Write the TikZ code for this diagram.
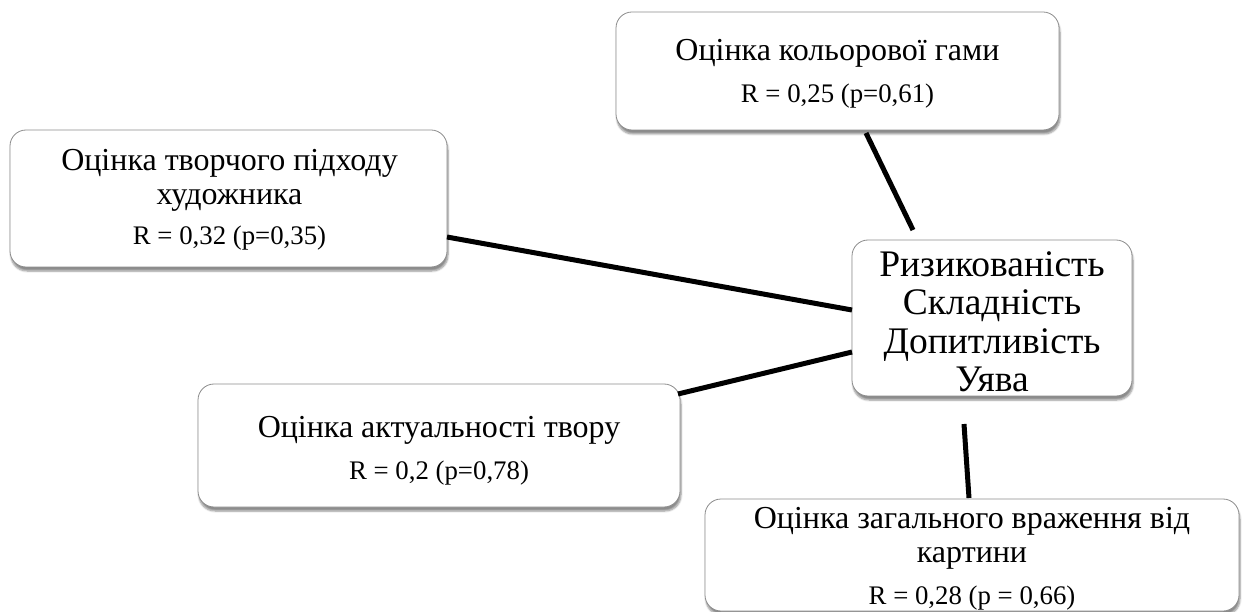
\documentclass[tikz,border=0pt]{standalone}
\usepackage{fontspec}
\setmainfont{Liberation Serif}
\usetikzlibrary{shadows.blur}
\begin{document}
\begin{tikzpicture}[x=1pt,y=-1pt,
  box/.style={draw=black!45, line width=0.8pt, rounded corners=16pt, fill=white,
    inner sep=0pt, blur shadow={shadow xshift=1pt, shadow yshift=-4pt, shadow blur steps=6, shadow opacity=45}},
  big/.style={align=center, inner sep=0pt, font=\fontsize{32}{34}\selectfont},
  rtxt/.style={inner sep=0pt, font=\fontsize{26.8}{30}\selectfont},
  conn/.style={line width=5pt}
]
\useasboundingbox (0,0) rectangle (1243,612);

\node[box, minimum width=443pt, minimum height=118pt] (top) at (837.5,71) {};
\node[big] (toptxt) at (837.5,53) {Оцінка кольорової гами};
\node[rtxt] (topr) at (837.5,96) {R = 0,25 (p=0,61)};

\node[box, minimum width=437pt, minimum height=137pt] (left) at (228.5,198.5) {};
\node[big] (lefttxt) at (229.5,180) {Оцінка творчого підходу\\художника};
\node[rtxt] (leftr) at (229.5,238) {R = 0,32 (p=0,35)};

\node[box, minimum width=280pt, minimum height=156pt] (center) at (992,318) {};
\node[align=center, inner sep=0pt, font=\fontsize{37.5}{38.5}\selectfont] (centertxt) at (992,322) {Ризикованість\\Складність\\Допитливість\\Уява};

\node[box, minimum width=482pt, minimum height=123pt] (act) at (439,445.5) {};
\node[big] (acttxt) at (439,430) {Оцінка актуальності твору};
\node[rtxt] (actr) at (439,473) {R = 0,2 (p=0,78)};

\node[box, minimum width=534pt, minimum height=112pt] (bot) at (972,555) {};
\node[big] (bottxt) at (972,538) {Оцінка загального враження від\\картини};
\node[rtxt] (botr) at (972,598) {R = 0,28 (p = 0,66)};

\coordinate (a1) at (866,133);
\coordinate (a2) at (913,230);
\coordinate (b1) at (447,237);
\coordinate (b2) at (852,310);
\coordinate (c1) at (678,394);
\coordinate (c2) at (852,352);
\coordinate (d1) at (964,424);
\coordinate (d2) at (969,498);
\draw[conn] (a1) -- (a2);
\draw[conn] (b1) -- (b2);
\draw[conn] (c1) -- (c2);
\draw[conn] (d1) -- (d2);
\end{tikzpicture}
\end{document}
